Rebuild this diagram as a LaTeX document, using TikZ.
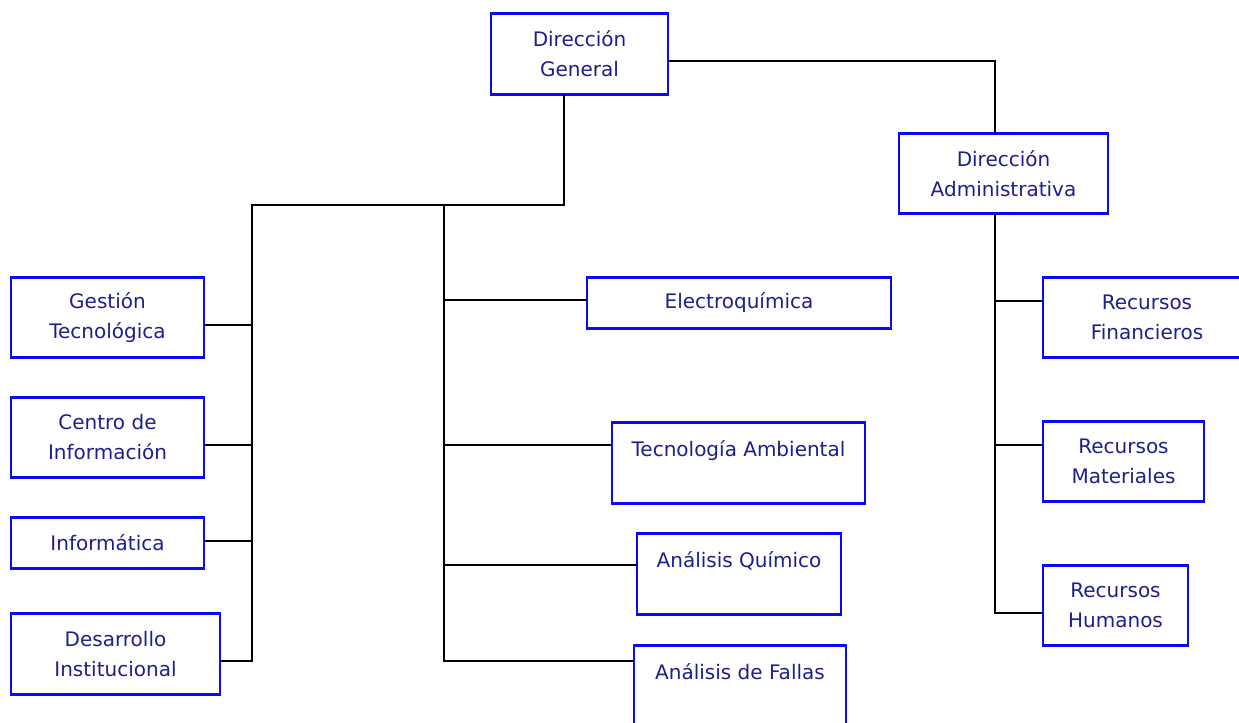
\documentclass[tikz,border=0pt]{standalone}
\usepackage{fontspec}
\setmainfont{DejaVu Sans}
\definecolor{boxblue}{RGB}{10,10,250}
\definecolor{textblue}{RGB}{30,30,140}
\tikzset{
  unit/.style={draw=boxblue, line width=1.3pt, text=textblue, align=center,
    inner sep=0pt, font=\fontsize{10}{15}\selectfont},
  link/.style={line width=1.3pt, line cap=rect}
}
\begin{document}
\begin{tikzpicture}[x=0.5pt,y=-0.5pt]
        \useasboundingbox (0,0) rectangle (1239,723);
        %% Top
        \node[unit, minimum width=88.5pt, minimum height=40.5pt] (dg) at (579.5,54) {Dirección\\General};
        \node[unit, minimum width=104.5pt, minimum height=40pt] (da) at (1003.5,173.5) {Dirección\\Administrativa};
        %% Left column
        \node[unit, minimum width=96.5pt, minimum height=40pt] (gt) at (107.5,317.5) {Gestión\\Tecnológica};
        \node[unit, minimum width=96.5pt, minimum height=40pt] (ci) at (107.5,437.5) {Centro de\\Información};
        \node[unit, minimum width=96.5pt, minimum height=25.5pt] (inf) at (107.5,543) {Informática};
        \node[unit, minimum width=104.5pt, minimum height=40.5pt] (di) at (115.5,654) {Desarrollo\\Institucional};
        %% Middle column
        \node[unit, minimum width=152pt, minimum height=25.5pt] (eq) at (739,303) {Electroquímica};
        \node[unit, minimum width=126.5pt, minimum height=40.5pt] (ta) at (738.5,463) {Tecnología Ambiental\\\mbox{}};
        \node[unit, minimum width=102pt, minimum height=40.5pt] (aq) at (739,574) {Análisis Químico\\\mbox{}};
        \node[unit, minimum width=106pt, minimum height=40.5pt] (af) at (740,686) {Análisis de Fallas\\\mbox{}};
        %% Right column
        \node[unit, minimum width=104pt, minimum height=40pt] (rf) at (1147,317.5) {Recursos\\Financieros};
        \node[unit, minimum width=80.5pt, minimum height=40pt] (rm) at (1123.5,461.5) {Recursos\\Materiales};
        \node[unit, minimum width=72.5pt, minimum height=40pt] (rh) at (1115.5,605.5) {Recursos\\Humanos};
        %% Junctions
        \coordinate (jleft) at (252,205);
        \coordinate (jmid) at (444,205);
        \coordinate (jtop) at (564,205);
        \coordinate (jright) at (995,61);
        %% Lines from the top
        \draw[link] (dg.south -| jtop) -- (jtop) -- (jleft);
        \draw[link] (jright -| dg.east) -- (jright) -- (jright |- da.north);
        %% Branches
        \foreach \n/\y in {gt/325,ci/445,inf/541,di/661}{
            \coordinate (b\n) at (252,\y);
            \draw[link] (b\n) -- (b\n -| \n.east);
        }
        \foreach \n/\y in {eq/300,ta/445,aq/565,af/661}{
            \coordinate (b\n) at (444,\y);
            \draw[link] (b\n) -- (b\n -| \n.west);
        }
        \foreach \n/\y in {rf/301,rm/445,rh/613}{
            \coordinate (b\n) at (995,\y);
            \draw[link] (b\n) -- (b\n -| \n.west);
        }
        %% Buses
        \draw[link] (jleft) -- (bdi);
        \draw[link] (jmid) -- (baf);
        \draw[link] (jright |- da.south) -- (brh);
    \end{tikzpicture}
\end{document}
